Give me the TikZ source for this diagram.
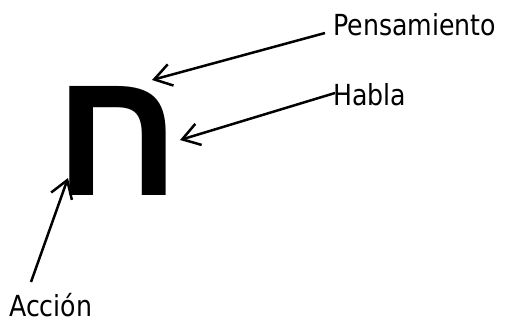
\documentclass[tikz,border=0pt]{standalone}
\usepackage{fontspec}
\setmainfont[FakeStretch=0.87]{DejaVu Sans}
\newfontfamily\hebfont[Script=Hebrew]{Liberation Sans}
\TeXXeTstate=1
\usetikzlibrary{arrows.meta}
\tikzset{
  label text/.style={inner sep=0pt, anchor=base west, font=\fontsize{29}{31}\selectfont},
  pointer/.style={line width=2.5pt, -{Straight Barb[length=17pt,width=22pt,line width=2.5pt]}},
}
\begin{document}
\begin{tikzpicture}[x=1pt,y=-1pt]
  \useasboundingbox (0,0) rectangle (524,322);
  % the letter chet
  \node[inner sep=0pt] (chet) at (118,141) {\fontsize{180}{185}\selectfont\hebfont\bfseries\beginR ח\endR};
  % labels
  \node[label text] (pens) at (333,35) {Pensamiento};
  \node[label text] (habla) at (333,105) {Habla};
  \node[label text] (accion) at (9,316) {Acción};
  % pointer ends
  \coordinate (pensTail) at (325,33);
  \coordinate (pensHead) at (152,80);
  \coordinate (hablaTail) at (335,93);
  \coordinate (hablaHead) at (180,140);
  \coordinate (accionTail) at (31,282);
  \coordinate (accionHead) at (68,178);
  \draw[pointer] (pensTail) -- (pensHead);
  \draw[pointer] (hablaTail) -- (hablaHead);
  \draw[pointer] (accionTail) -- (accionHead);
\end{tikzpicture}
\end{document}
